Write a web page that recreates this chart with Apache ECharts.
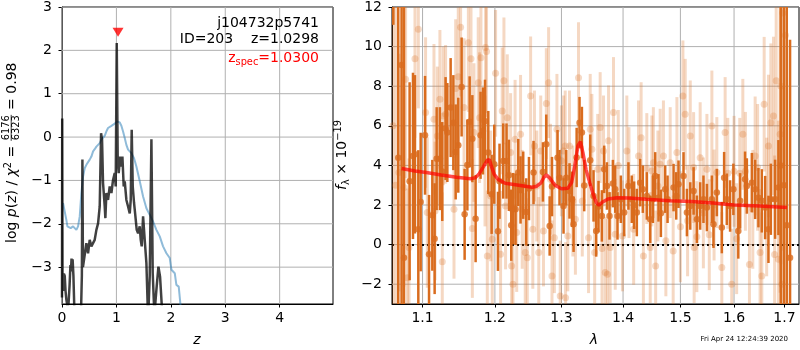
<!DOCTYPE html>
<html><head><meta charset="utf-8">
<script src="https://cdn.jsdelivr.net/npm/echarts@6/dist/echarts.min.js"></script>
<style>html,body{margin:0;padding:0;background:#fff}#c{width:800px;height:350px}</style>
</head><body><div id="c"></div>
<script>
// ---------- left panel: log p(z) ----------
const pzZ = [0.000,0.004,0.010,0.020,0.035,0.050,0.065,0.080,0.100,0.120,0.140,0.155,0.165,0.175,0.185,0.195,0.210,0.225,0.260,0.300,0.350,0.365,0.375,0.385,0.405,0.448,0.479,0.509,0.540,0.571,0.601,0.632,0.663,0.693,0.718,0.736,0.754,0.785,0.797,0.816,0.846,0.877,0.908,0.938,0.969,0.987,1.006,1.024,1.042,1.067,1.091,1.110,1.134,1.153,1.183,1.214,1.245,1.263,1.281,1.300,1.324,1.349,1.373,1.398,1.428,1.447,1.465,1.490,1.520,1.551,1.582,1.612,1.643,1.667,1.698,1.735,1.772,1.802,1.839,1.888,2.000];
const pzLogp = [-3.70,0.43,-3.40,-3.55,-3.15,-3.20,-3.55,-3.75,-3.90,-3.85,-3.40,-2.95,-3.10,-2.80,-3.05,-2.82,-3.20,-3.90,-4.10,-4.20,-4.00,-3.20,-0.52,-3.00,-2.99,-2.45,-2.68,-2.37,-2.52,-2.49,-2.37,-2.14,-1.99,-1.60,0.09,-0.06,-1.06,-1.60,-1.87,-1.29,-1.45,-1.14,-1.29,-0.99,-0.83,-1.14,2.17,-0.52,-0.83,-0.45,-0.68,-0.45,-1.14,-1.02,-1.45,-1.60,-1.76,-1.45,0.17,-1.14,-1.52,-1.83,-2.14,-2.22,-2.06,-2.37,-2.52,-1.83,-2.37,-2.91,-4.20,-3.22,-0.05,-3.14,-4.10,-3.52,-2.99,-3.22,-4.00,-4.50,-5.00];
const tplZ = [0.019,0.050,0.080,0.099,0.123,0.160,0.203,0.234,0.264,0.295,0.326,0.356,0.387,0.417,0.448,0.479,0.509,0.540,0.571,0.601,0.632,0.663,0.693,0.724,0.754,0.785,0.816,0.846,0.908,0.969,1.018,1.061,1.091,1.122,1.153,1.183,1.214,1.275,1.324,1.367,1.429,1.490,1.551,1.612,1.674,1.735,1.796,1.857,1.919,1.980,2.011,2.072,2.102,2.145,2.176,2.225];
const tplLogp = [-1.52,-1.56,-1.91,-2.06,-2.02,-2.10,-2.06,-2.10,-2.14,-2.06,-1.83,-1.29,-0.91,-0.72,-0.64,-0.66,-0.52,-0.45,-0.33,-0.28,-0.22,-0.20,-0.14,-0.06,-0.05,0.03,0.13,0.21,0.26,0.31,0.36,0.34,0.26,0.13,-0.02,-0.18,-0.29,-0.37,-0.49,-0.68,-1.02,-1.37,-1.64,-1.79,-1.95,-2.14,-2.29,-2.52,-2.68,-2.79,-3.06,-3.14,-3.41,-3.45,-3.85,-4.40];
const zSpec = 1.0300, zSpecMarkY = 2.42;
const zTicks = [0,1,2,3,4];
const logpTicks = [-3,-2,-1,0,1,2,3];

// ---------- right panel: spectrum ----------
const darkLam = [1.0620,1.0683,1.0726,1.0757,1.0830,1.0874,1.0900,1.0944,1.0975,1.1033,1.1086,1.1130,1.1161,1.1188,1.1232,1.1264,1.1309,1.1333,1.1378,1.1415,1.1447,1.1483,1.1529,1.1571,1.1609,1.1641,1.1679,1.1725,1.1795,1.1829,1.1858,1.1905,1.1953,1.1991,1.2044,1.2067,1.2121,1.2169,1.2204,1.2238,1.2268,1.2302,1.2342,1.2376,1.2416,1.2461,1.2502,
1.2571,1.2714,1.2765,1.2817,1.2853,1.2939,1.2970,1.3033,1.3075,1.3127,1.3165,1.3191,1.3240,1.3286,1.3324,1.3361,1.3458,1.3512,1.3555,1.3593,1.3648,1.3686,1.3731,1.3774,1.3830,1.3869,1.3907,1.3963,1.4019,1.4091,1.4148,1.4188,1.4234,1.4291,1.4337,1.4406,1.4465,1.4512,1.4552,1.4610,1.4652,1.4728,1.4770,
1.4877,1.4925,1.4966,1.5056,1.5118,1.5179,1.5240,1.5301,1.5361,1.5422,1.5486,1.5579,1.5609,1.5672,1.5766,1.5810,1.5861,1.5924,1.5987,1.6082,1.6117,1.6213,1.6248,1.6346,1.6411,1.6476,1.6543,1.6610,1.6676,1.6724,1.6810,1.6877,1.6925,1.6990,1.7047,1.7115];
const darkFlux = [14.0,4.39,9.07,-0.67,3.20,4.48,4.56,0.77,2.15,5.52,-0.49,1.48,0.30,4.34,4.34,3.69,5.86,5.66,6.92,6.16,4.68,5.02,7.96,1.53,4.02,6.20,5.35,1.31,5.52,5.74,6.23,4.65,2.54,4.06,0.67,3.20,4.22,4.22,3.50,0.98,1.82,1.78,3.64,2.76,3.00,1.65,2.83,
3.64,3.67,5.07,0.94,2.93,4.39,3.38,1.95,3.38,2.71,2.29,1.03,4.40,6.16,5.66,2.98,4.26,2.46,0.69,1.92,1.45,3.80,2.96,1.45,3.08,2.80,1.45,2.29,1.62,2.96,2.29,1.99,1.62,3.13,2.80,2.46,1.28,2.29,3.47,2.36,1.58,2.80,2.29,
2.88,2.46,3.05,3.47,1.62,1.95,2.71,1.28,1.95,2.29,1.87,2.29,1.03,2.63,0.86,3.38,2.29,1.95,2.79,0.69,2.21,3.30,2.96,3.13,2.79,2.37,2.21,1.87,0.77,2.29,2.29,2.88,4.00,3.00,0.98,-0.66];
const darkErr = [2.9,14,14,13,5.0,4.2,4.0,4.0,3.5,3.0,3.0,2.8,2.8,2.6,2.6,2.5,2.6,2.5,2.5,2.4,2.4,2.4,2.5,2.3,2.3,2.3,2.2,2.2,2.2,2.2,2.1,2.1,2.0,2.0,2.0,1.9,1.9,1.9,1.8,1.8,1.8,1.8,1.7,1.7,1.7,1.7,1.6,
1.6,1.5,1.5,1.5,1.5,1.4,1.4,1.4,1.4,1.4,1.4,1.4,1.5,1.3,1.3,1.3,1.3,1.3,1.3,1.3,1.3,1.2,1.2,1.2,1.2,1.2,1.2,1.2,1.2,1.2,1.2,1.2,1.2,1.2,1.2,1.2,1.2,1.2,1.2,1.2,1.2,1.2,1.2,
1.2,1.2,1.2,1.2,1.2,1.2,1.2,1.2,1.2,1.2,1.2,1.2,1.2,1.2,1.3,1.3,1.3,1.3,1.3,1.4,1.4,1.4,1.4,1.5,1.5,1.5,1.6,1.6,1.7,1.8,2.0,2.4,11,14,12,11];

const lightLam = [1.0615,1.0650,1.0692,1.0757,1.0778,1.0800,1.0822,1.0900,1.0944,1.1040,1.1063,1.1152,1.1166,1.1197,1.1232,1.1264,1.1277,1.1309,1.1424,1.1447,1.1483,1.1515,1.1563,1.1623,1.1660,1.1679,1.1702,1.1762,1.1781,1.1800,1.1858,1.1866,1.1880,1.1891,1.1939,1.1962,1.2010,1.2082,1.2106,1.2131,1.2155,1.2180,1.2229,1.2244,1.2264,1.2295,1.2319,1.2376,1.2401,1.2446,1.2477,1.2527,1.2560,1.2585,1.2620,1.2650,1.2680,1.2722,1.2766,1.2801,1.2830,1.2853,1.2890,1.2930,1.2981,1.3000,1.3033,1.3059,1.3065,1.3100,1.3127,1.3180,1.3220,1.3270,1.3330,1.3431,1.3458,1.3485,1.3530,1.3580,1.3620,1.3650,1.3675,1.3703,1.3740,1.3758,1.3785,1.3840,1.3869,1.3920,1.3990,1.4064,1.4100,1.4180,1.4263,1.4308,1.4347,1.4406,1.4465,1.4494,1.4520,1.4560,1.4600,1.4639,1.4697,1.4740,1.4817,1.4870,1.4937,1.5000,1.5045,1.5087,1.5130,1.5179,1.5240,1.5250,1.5300,1.5361,1.5420,1.5486,1.5530,1.5579,1.5620,1.5672,1.5766,1.5829,1.5880,1.5955,1.6000,1.6050,1.6110,1.6170,1.6220,1.6299,1.6365,1.6411,1.6460,1.6509,1.6543,1.6590,1.6640,1.6676,1.6724,1.6777,1.6800,1.6831,1.6877,1.6911,1.6925,1.6950,1.6966,1.7020];
const lightFlux = [6.0,3.0,3.64,2.88,8.35,-1.67,-0.15,9.39,10.88,6.67,1.62,6.33,1.70,5.49,7.34,-0.86,6.50,6.58,1.78,7.88,8.48,10.98,6.92,10.20,9.39,0.81,5.66,8.18,6.41,9.44,4.22,9.95,9.75,-0.57,2.46,0.27,8.65,-0.49,6.75,8.27,1.95,6.41,4.65,-1.08,-2.00,5.32,0.61,5.57,1.78,-0.40,-0.66,7.51,0.77,4.98,2.96,-0.40,4.73,0.69,7.12,8.18,3.30,-1.58,0.35,5.82,-2.60,4.23,4.73,4.98,-2.68,0.44,4.98,2.20,1.28,8.43,2.20,0.35,5.82,4.81,-0.40,3.80,5.91,-0.20,4.73,-1.41,-1.50,5.24,-0.15,6.67,0.52,4.00,0.44,4.73,3.13,0.77,4.48,5.40,-0.57,3.84,-0.15,3.72,4.14,-1.08,2.96,4.06,4.48,0.19,4.14,-0.32,4.65,0.90,7.51,6.58,1.20,5.49,3.89,-0.15,0.40,4.39,1.60,3.80,0.50,5.99,2.00,3.64,-1.16,5.66,3.60,-2.00,3.70,0.30,3.60,5.57,3.70,-1.00,1.78,4.48,3.90,-0.40,-1.58,7.09,1.90,4.98,6.16,6.50,-0.50,8.27,-0.74,5.57,8.01,-2.00,11.70,10.57];
const lightErr = [12,12,6,5,5,4.5,4.5,4,4,3.8,3.8,3.8,3.5,3.5,3.5,3.5,3.5,3.5,3.5,3.5,3.5,3.5,3.5,3.5,3.5,3.5,3.5,3.3,3.3,3.3,3.3,3.3,3.3,3.3,3.3,3.3,3.2,3.2,3.2,3.2,3.2,3.2,3.0,3.0,3.0,3.0,3.0,3.0,3.0,3.0,3.0,3.0,3.0,2.8,2.8,2.8,2.8,2.8,2.8,2.8,2.8,2.8,2.8,2.8,2.8,2.8,2.8,2.8,2.8,2.8,2.8,2.8,2.8,2.8,2.8,2.8,2.8,2.8,2.8,2.8,2.8,2.8,2.8,2.8,2.8,2.8,2.8,2.8,2.8,2.8,2.8,2.8,2.8,2.8,2.8,2.8,2.8,2.8,2.8,2.8,2.8,2.8,2.8,2.8,2.8,2.8,2.8,2.8,2.8,2.8,2.8,2.8,2.8,2.8,2.8,2.8,2.8,2.8,2.8,2.8,2.8,2.8,2.8,2.8,2.8,2.8,2.8,2.8,2.8,2.8,2.8,2.8,3.0,3.0,3.0,3.0,3.2,3.2,3.2,3.4,3.5,3.6,4,4,5,6,7,8,9,10,12];

const modelLam = [1.0726,1.090,1.105,1.125,1.146,1.165,1.172,1.177,1.183,1.189,1.192,1.195,1.199,1.205,1.215,1.235,1.255,1.262,1.268,1.273,1.277,1.282,1.290,1.300,1.310,1.316,1.321,1.326,1.330,1.334,1.339,1.345,1.350,1.356,1.360,1.366,1.375,1.390,1.410,1.440,1.480,1.520,1.560,1.600,1.650,1.705];
const modelFlux = [3.84,3.72,3.64,3.52,3.40,3.33,3.38,3.55,3.90,4.25,4.30,3.95,3.55,3.28,3.10,3.00,2.90,2.95,3.10,3.40,3.52,3.35,3.00,2.82,2.85,3.13,3.97,4.98,5.20,4.65,3.80,3.13,2.60,2.10,1.99,2.15,2.30,2.37,2.35,2.29,2.22,2.18,2.10,2.00,1.95,1.87];
const lamTicks = [1.1,1.2,1.3,1.4,1.5,1.6,1.7];
const fluxTicks = [-2,0,2,4,6,8,10,12];

const objName = 'j104732p5741';
const idLine = 'ID=203    z=1.0298';
const zspecText = '=1.0300';
const stamp = 'Fri Apr 24 12:24:39 2020';

// ---------- build ----------
const FONT = 'DejaVu Sans';
const u = l => Math.log10(l);
const mfmt = v => (v < 0 ? '\u2212' + Math.abs(v) : String(v));
const GRIDC = 'rgb(176,176,176)';
const DARK = '#d96c1e';
const LIGHT = 'rgba(217,110,35,0.27)';
const LIGHTM = 'rgba(217,110,35,0.33)';
const LIMITS = [{x: [0, 4.98], y: [-3.85, 3]}, {x: [u(1.0603), u(1.73)], y: [-3, 12]}];

function axisBase(gridIndex, extra) {
  return Object.assign({
    gridIndex, type: 'value',
    axisLine: {show: true, onZero: false, lineStyle: {color: '#000', width: 1}},
    splitLine: {show: false},
  }, extra);
}
function tick(custom) { return {show: true, inside: false, length: 3.5, customValues: custom, lineStyle: {color: '#000', width: 1}}; }
function lab(margin, custom, fmt) {
  return {show: true, color: '#000', fontFamily: FONT, fontSize: 14, margin, customValues: custom, formatter: fmt,
          showMinLabel: true, showMaxLabel: true};
}
function errRender(color, width) {
  return function (params, api) {
    const x = api.value(0), y = api.value(1), e = api.value(2);
    const p1 = api.coord([x, y - e]), p2 = api.coord([x, y + e]);
    const cs = params.coordSys;
    const top = cs.y, bot = cs.y + cs.height;
    const c = v => Math.min(bot, Math.max(top, v));
    return {type: 'line', shape: {x1: p1[0], y1: c(p1[1]), x2: p2[0], y2: c(p2[1])},
            style: {stroke: color, lineWidth: width}, silent: true};
  };
}
// grid lines: one plain line series per tick value, from axis limit to axis limit
function gridLineSeries(gi, xs, ys) {
  const L = LIMITS[gi];
  const mk = data => ({type: 'line', xAxisIndex: gi, yAxisIndex: gi, data, showSymbol: false, symbol: 'none',
    lineStyle: {color: GRIDC, width: 1, opacity: 1, type: 'solid'}, clip: true, z: 2, emphasis: {disabled: true}});
  return xs.map(v => mk([[v, L.y[0]], [v, L.y[1]]])).concat(ys.map(v => mk([[L.x[0], v], [L.x[1], v]])));
}

const lamTickU = lamTicks.map(u);
const option = {
  animation: false,
  textStyle: {fontFamily: FONT},
  grid: [
    {left: 62, top: 7, width: 271, height: 297, show: true, borderColor: '#000', borderWidth: 1, backgroundColor: 'rgba(0,0,0,0)', outerBoundsMode: 'none', containLabel: false},
    {left: 392, top: 7, width: 407, height: 297, show: true, borderColor: '#000', borderWidth: 1, backgroundColor: 'rgba(0,0,0,0)', outerBoundsMode: 'none', containLabel: false}
  ],
  xAxis: [
    axisBase(0, {min: LIMITS[0].x[0], max: LIMITS[0].x[1], axisTick: tick(zTicks), axisLabel: lab(7, zTicks, v => String(v))}),
    axisBase(1, {min: LIMITS[1].x[0], max: LIMITS[1].x[1], axisTick: tick(lamTickU), axisLabel: lab(7, lamTickU, v => Math.pow(10, v).toFixed(1))})
  ],
  yAxis: [
    axisBase(0, {min: LIMITS[0].y[0], max: LIMITS[0].y[1], axisTick: tick(logpTicks), axisLabel: lab(10, logpTicks, mfmt)}),
    axisBase(1, {min: LIMITS[1].y[0], max: LIMITS[1].y[1], axisTick: tick(fluxTicks), axisLabel: lab(10, fluxTicks, mfmt)})
  ],
  series: [].concat(gridLineSeries(0, zTicks, logpTicks), gridLineSeries(1, lamTickU, fluxTicks), [
    {type: 'line', xAxisIndex: 0, yAxisIndex: 0, data: tplZ.map((z, i) => [z, tplLogp[i]]), showSymbol: false, symbol: 'none',
     lineStyle: {color: 'rgba(31,119,180,0.5)', width: 2}, clip: true, z: 6},
    {type: 'line', xAxisIndex: 0, yAxisIndex: 0, data: pzZ.map((z, i) => [z, pzLogp[i]]), showSymbol: false, symbol: 'none',
     lineStyle: {color: 'rgba(0,0,0,0.75)', width: 2.5}, clip: true, z: 7},
    {type: 'scatter', xAxisIndex: 0, yAxisIndex: 0, data: [[zSpec, zSpecMarkY]], symbol: 'triangle', symbolRotate: 180,
     symbolSize: [11, 9], itemStyle: {color: '#ff0000'}, z: 8},
    {type: 'custom', xAxisIndex: 1, yAxisIndex: 1, renderItem: errRender(LIGHT, 3), clip: true,
     data: lightLam.map((l, i) => [u(l), lightFlux[i], lightErr[i]]), encode: {x: 0, y: 1}, z: 6},
    {type: 'scatter', xAxisIndex: 1, yAxisIndex: 1, data: lightLam.map((l, i) => [u(l), lightFlux[i]]),
     symbol: 'circle', symbolSize: 7, itemStyle: {color: LIGHTM}, clip: true, z: 6},
    {type: 'custom', xAxisIndex: 1, yAxisIndex: 1, renderItem: errRender(DARK, 2.5), clip: true,
     data: darkLam.map((l, i) => [u(l), darkFlux[i], darkErr[i]]), encode: {x: 0, y: 1}, z: 7},
    {type: 'scatter', xAxisIndex: 1, yAxisIndex: 1, data: darkLam.map((l, i) => [u(l), darkFlux[i]]),
     symbol: 'circle', symbolSize: 6.5, itemStyle: {color: DARK}, clip: true, z: 7},
    {type: 'line', xAxisIndex: 1, yAxisIndex: 1, data: modelLam.map((l, i) => [u(l), modelFlux[i]]), showSymbol: false, symbol: 'none',
     lineStyle: {color: 'rgba(255,0,0,0.7)', width: 3.5}, clip: true, z: 8,
     markLine: {silent: true, symbol: 'none', label: {show: false}, animation: false,
       lineStyle: {color: '#000', type: [2, 3], width: 2}, data: [{yAxis: 0}]}}
  ])
};

const chart = echarts.init(document.getElementById('c'));
chart.setOption(option);

// ---- texts ----
const cv = document.createElement('canvas').getContext('2d');
function tw(txt, size, italic) { cv.font = (italic ? 'italic ' : '') + size + 'px "' + FONT + '"'; return cv.measureText(txt).width; }
const w1 = tw('log ', 14) + tw('p', 14, true) + tw('(', 14) + tw('z', 14, true) + tw(') / ', 14) + tw('\u03c7', 14, true) + tw('2', 9.8) + tw(' = ', 14);
const wf = tw('6176', 9.8) + 2;
const richBase = {
  a: {fontSize: 14, fontFamily: FONT, fill: '#000', color: '#000', lineHeight: 18},
  i: {fontSize: 14, fontFamily: FONT, fontStyle: 'italic', fill: '#000', color: '#000', lineHeight: 18},
  s: {fontSize: 9.8, fontFamily: FONT, fill: '#000', color: '#000', verticalAlign: 'top', lineHeight: 18},
  b: {fontSize: 9.8, fontFamily: FONT, fill: '#000', color: '#000', verticalAlign: 'bottom', lineHeight: 18}
};
function T(x, y, text, size, align, color, extra) {
  return {type: 'text', x, y, silent: true, z: 50, style: Object.assign({text, fill: color || '#000', fontFamily: FONT, fontSize: size,
    align: align, textAlign: align, verticalAlign: 'middle', textVerticalAlign: 'middle'}, extra || {})};
}
const els = [
  {type: 'group', x: 12.5, y: 243, rotation: Math.PI / 2, silent: true, z: 50, children: [
    {type: 'text', x: 0, y: 0, style: {text: '{a|log }{i|p}{a|(}{i|z}{a|) / }{i|\u03c7}{s|2}{a| = }', rich: richBase,
      align: 'left', textAlign: 'left', verticalAlign: 'middle', textVerticalAlign: 'middle'}},
    T(w1 + wf / 2, -6.5, '6176', 9.8, 'center'),
    {type: 'line', shape: {x1: w1 + 0.5, y1: -1.3, x2: w1 + wf - 0.5, y2: -1.3}, style: {stroke: '#000', lineWidth: 0.8}},
    T(w1 + wf / 2, 4.2, '6323', 9.8, 'center'),
    T(w1 + wf, 0, ' = 0.98', 14, 'left')
  ]},
  {type: 'text', x: 342, y: 155, rotation: Math.PI / 2, silent: true, z: 50,
   style: {text: '{i|f}{b|\u03bb}{a| \u00d7 10}{s|\u221219}', rich: richBase, align: 'center', textAlign: 'center', verticalAlign: 'middle', textVerticalAlign: 'middle'}},
  T(197, 340, 'z', 14, 'center', '#000', {fontStyle: 'italic'}),
  T(594, 340, '\u03bb', 14, 'center', '#000', {fontStyle: 'italic'}),
  T(319, 23, objName, 14, 'right'),
  T(319, 39, idLine, 14, 'right'),
  {type: 'text', x: 319, y: 58, silent: true, z: 50, style: {text: '{a|z}{b|spec}{a|' + zspecText + '}', align: 'right', textAlign: 'right', verticalAlign: 'middle', textVerticalAlign: 'middle',
    rich: {a: {fontSize: 14, fontFamily: FONT, fill: '#ff0000', color: '#ff0000', lineHeight: 18},
           b: {fontSize: 9.8, fontFamily: FONT, fill: '#ff0000', color: '#ff0000', verticalAlign: 'bottom', lineHeight: 18}}}},
  T(788, 339, stamp, 7, 'right')
];
chart.setOption({graphic: {elements: els}});
</script></body></html>
